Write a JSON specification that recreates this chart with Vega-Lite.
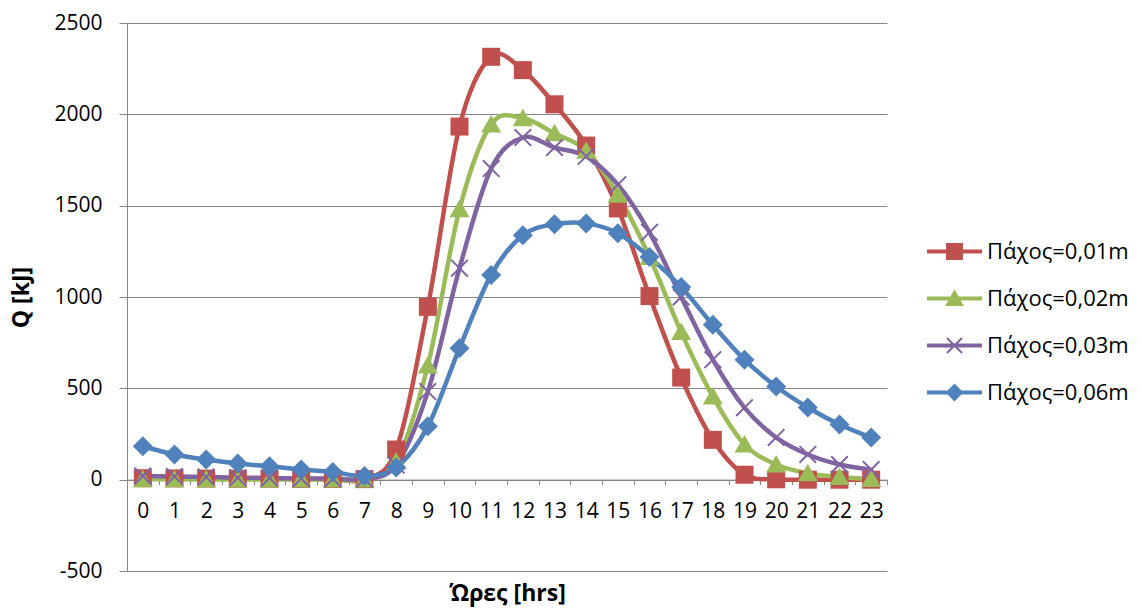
{
  "$schema": "https://vega.github.io/schema/vega-lite/v6.json",
  "width": 760,
  "height": 548,
  "autosize": "none",
  "padding": {"left": 127, "top": 23, "right": 254, "bottom": 43},
  "background": "white",
  "config": {
    "view": {"stroke": null},
    "font": "Open Sans"
  },
  "data": {
    "values": [
      {"h": 0, "Πάχος=0,01m": 8, "Πάχος=0,02m": 2, "Πάχος=0,03m": 20, "Πάχος=0,06m": 183},
      {"h": 1, "Πάχος=0,01m": 7, "Πάχος=0,02m": 2, "Πάχος=0,03m": 17, "Πάχος=0,06m": 138},
      {"h": 2, "Πάχος=0,01m": 6, "Πάχος=0,02m": 1, "Πάχος=0,03m": 14, "Πάχος=0,06m": 110},
      {"h": 3, "Πάχος=0,01m": 5, "Πάχος=0,02m": 1, "Πάχος=0,03m": 11, "Πάχος=0,06m": 88},
      {"h": 4, "Πάχος=0,01m": 5, "Πάχος=0,02m": 1, "Πάχος=0,03m": 9, "Πάχος=0,06m": 73},
      {"h": 5, "Πάχος=0,01m": 4, "Πάχος=0,02m": 1, "Πάχος=0,03m": 7, "Πάχος=0,06m": 56},
      {"h": 6, "Πάχος=0,01m": 4, "Πάχος=0,02m": 1, "Πάχος=0,03m": 5, "Πάχος=0,06m": 42},
      {"h": 7, "Πάχος=0,01m": 3, "Πάχος=0,02m": 1, "Πάχος=0,03m": 4, "Πάχος=0,06m": 20},
      {"h": 8, "Πάχος=0,01m": 165, "Πάχος=0,02m": 100, "Πάχος=0,03m": 80, "Πάχος=0,06m": 67},
      {"h": 9, "Πάχος=0,01m": 946, "Πάχος=0,02m": 625, "Πάχος=0,03m": 482, "Πάχος=0,06m": 292},
      {"h": 10, "Πάχος=0,01m": 1933, "Πάχος=0,02m": 1480, "Πάχος=0,03m": 1158, "Πάχος=0,06m": 720},
      {"h": 11, "Πάχος=0,01m": 2315, "Πάχος=0,02m": 1945, "Πάχος=0,03m": 1703, "Πάχος=0,06m": 1121},
      {"h": 12, "Πάχος=0,01m": 2242, "Πάχος=0,02m": 1978, "Πάχος=0,03m": 1873, "Πάχος=0,06m": 1338},
      {"h": 13, "Πάχος=0,01m": 2055, "Πάχος=0,02m": 1896, "Πάχος=0,03m": 1818, "Πάχος=0,06m": 1398},
      {"h": 14, "Πάχος=0,01m": 1829, "Πάχος=0,02m": 1800, "Πάχος=0,03m": 1770, "Πάχος=0,06m": 1403},
      {"h": 15, "Πάχος=0,01m": 1485, "Πάχος=0,02m": 1560, "Πάχος=0,03m": 1615, "Πάχος=0,06m": 1349},
      {"h": 16, "Πάχος=0,01m": 1005, "Πάχος=0,02m": 1219, "Πάχος=0,03m": 1354, "Πάχος=0,06m": 1219},
      {"h": 17, "Πάχος=0,01m": 559, "Πάχος=0,02m": 808, "Πάχος=0,03m": 1000, "Πάχος=0,06m": 1055},
      {"h": 18, "Πάχος=0,01m": 218, "Πάχος=0,02m": 455, "Πάχος=0,03m": 657, "Πάχος=0,06m": 848},
      {"h": 19, "Πάχος=0,01m": 27, "Πάχος=0,02m": 193, "Πάχος=0,03m": 394, "Πάχος=0,06m": 657},
      {"h": 20, "Πάχος=0,01m": 2, "Πάχος=0,02m": 83, "Πάχος=0,03m": 231, "Πάχος=0,06m": 510},
      {"h": 21, "Πάχος=0,01m": 0, "Πάχος=0,02m": 35, "Πάχος=0,03m": 138, "Πάχος=0,06m": 395},
      {"h": 22, "Πάχος=0,01m": 0, "Πάχος=0,02m": 15, "Πάχος=0,03m": 83, "Πάχος=0,06m": 302},
      {"h": 23, "Πάχος=0,01m": 0, "Πάχος=0,02m": 4, "Πάχος=0,03m": 55, "Πάχος=0,06m": 231}
    ]
  },
  "transform": [
    {"fold": ["Πάχος=0,01m", "Πάχος=0,02m", "Πάχος=0,03m", "Πάχος=0,06m"], "as": ["series", "Q"]}
  ],
  "encoding": {
    "x": {
      "field": "h", "type": "ordinal", "bandPosition": 0.5,
      "scale": {"type": "band", "paddingInner": 0, "paddingOuter": 0},
      "axis": {
        "title": "Ώρες [hrs]", "titleFont": "Open Sans", "titleFontSize": 23, "titleFontWeight": "bold", "titleColor": "black",
        "titlePadding": 61,
        "offset": -91.4, "labelAngle": 0, "labelFont": "Open Sans", "labelFontSize": 21, "labelColor": "black",
        "labelPadding": 16, "tickBand": "extent", "tickSize": 5, "tickColor": "#868686", "domainColor": "#868686",
        "grid": false
      }
    },
    "y": {
      "field": "Q", "type": "quantitative",
      "scale": {"domain": [-500, 2500], "nice": false, "zero": false},
      "axis": {
        "title": "Q [kJ]", "titleFont": "Open Sans", "titleFontSize": 23, "titleFontWeight": "bold", "titleColor": "black",
        "titlePadding": 20, "labelExpr": "datum.value + ''",
        "values": [-500, 0, 500, 1000, 1500, 2000, 2500],
        "labelFont": "Open Sans", "labelFontSize": 21, "labelColor": "black", "labelPadding": 17,
        "tickSize": 8, "tickColor": "#868686", "domainColor": "#868686",
        "grid": true, "gridColor": "#868686", "gridWidth": 1
      }
    },
    "color": {
      "field": "series", "type": "nominal",
      "scale": {
        "domain": ["Πάχος=0,01m", "Πάχος=0,02m", "Πάχος=0,03m", "Πάχος=0,06m"],
        "range": ["#C0504D", "#9BBB59", "#8064A2", "#4F81BD"]
      },
      "legend": {
        "title": null, "orient": "none", "legendX": 804, "legendY": 205, "padding": 0,
        "symbolSize": 2209, "symbolStrokeWidth": 0, "symbolOpacity": 1, "rowPadding": 12,
        "labelFont": "Open Sans", "labelFontSize": 22, "labelColor": "black", "labelOffset": 9, "labelLimit": 300
      }
    }
  },
  "layer": [
    {
      "mark": {"type": "point", "filled": true, "opacity": 1, "size": 0, "strokeWidth": 0},
      "encoding": {
        "shape": {
          "field": "series", "type": "nominal",
          "scale": {
            "domain": ["Πάχος=0,01m", "Πάχος=0,02m", "Πάχος=0,03m", "Πάχος=0,06m"],
            "range": [
              "M-1.17,-0.085H-0.36V-0.36H0.36V-0.085H1.17V0.085H0.36V0.36H-0.36V0.085H-1.17Z",
              "M-1.17,-0.085H1.17V0.085H-1.17Z M0,-0.39L0.4,0.32H-0.4Z",
              "M-1.17,-0.085H1.17V0.085H-1.17Z M-0.35,-0.29L-0.29,-0.35L0.35,0.29L0.29,0.35Z M0.35,-0.29L-0.29,0.35L-0.35,0.29L0.29,-0.35Z",
              "M-1.17,-0.085H1.17V0.085H-1.17Z M0,-0.38L0.38,0L0,0.38L-0.38,0Z"
            ]
          },
          "legend": {
            "title": null, "orient": "none", "legendX": 804, "legendY": 205, "padding": 0,
            "symbolSize": 2209, "symbolStrokeWidth": 0, "symbolOpacity": 1, "rowPadding": 12,
            "labelFont": "Open Sans", "labelFontSize": 22, "labelColor": "black", "labelOffset": 9, "labelLimit": 300
          }
        }
      }
    },
    {
      "mark": {"type": "line", "interpolate": "cardinal", "tension": 0, "strokeWidth": 4.5, "strokeCap": "round", "strokeJoin": "round"}
    },
    {
      "transform": [{"filter": "datum.series == 'Πάχος=0,01m'"}],
      "mark": {"type": "point", "filled": true, "opacity": 1, "size": 400, "strokeWidth": 0, "shape": "M-0.9,-0.9H0.9V0.9H-0.9Z"}
    },
    {
      "transform": [{"filter": "datum.series == 'Πάχος=0,02m'"}],
      "mark": {"type": "point", "filled": true, "opacity": 1, "size": 400, "strokeWidth": 0, "shape": "M0,-0.95L1,0.8H-1Z"}
    },
    {
      "transform": [{"filter": "datum.series == 'Πάχος=0,03m'"}],
      "mark": {"type": "point", "filled": true, "opacity": 1, "size": 400, "strokeWidth": 0, "shape": "M-0.9,-0.76L-0.76,-0.9L0.9,0.76L0.76,0.9Z M0.9,-0.76L-0.76,0.9L-0.9,0.76L0.76,-0.9Z"}
    },
    {
      "transform": [{"filter": "datum.series == 'Πάχος=0,06m'"}],
      "mark": {"type": "point", "filled": true, "opacity": 1, "size": 400, "strokeWidth": 0, "shape": "M0,-1L1,0L0,1L-1,0Z"}
    }
  ]
}
